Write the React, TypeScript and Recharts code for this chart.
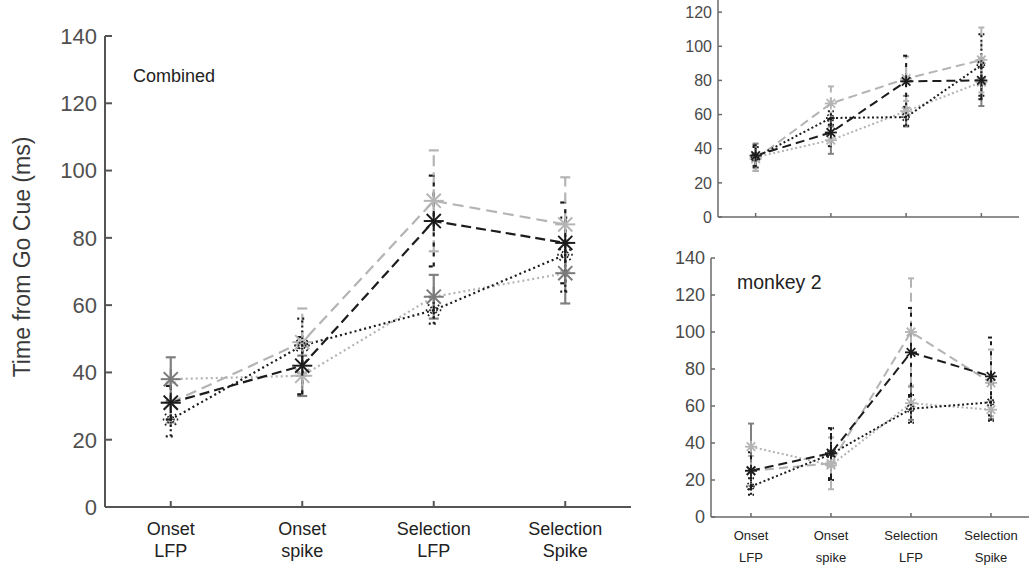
import React from "react";
import { ErrorBar, Line, LineChart, XAxis, YAxis } from "recharts";

// x categories (plotted at 1..4 on a numeric axis)
const stages = ["Onset LFP", "Onset spike", "Selection LFP", "Selection Spike"];
const stageLines = [
  ["Onset", "LFP"],
  ["Onset", "spike"],
  ["Selection", "LFP"],
  ["Selection", "Spike"],
];
const yTicks = [0, 20, 40, 60, 80, 100, 120, 140];
const yTicksTop = [0, 20, 40, 60, 80, 100, 120]; // 140 sits above the picture

// Combined panel — means and error half-widths (ms)
const combGrayDash = [31, 49, 91, 84];
const combGrayDashErr = [6, 10, 15, 14];
const combBlackDash = [31, 42, 85, 78.5];
const combBlackDashErr = [5, 8.5, 13.5, 12];
const combBlackDot = [26, 48, 58.5, 75];
const combBlackDotErr = [5, 8, 4, 11];
const combGrayDot = [38, 39, 62.5, 69.5];
const combGrayDotErr = [6.5, 6, 6.5, 9];

// monkey 1 (top right)
const m1GrayDash = [34, 66.5, 81, 92];
const m1GrayDashErr = [7, 10, 13, 19];
const m1BlackDash = [36, 49.5, 79.5, 80];
const m1BlackDashErr = [6, 8, 15, 11];
const m1BlackDot = [35, 58, 58.5, 89];
const m1BlackDotErr = [6, 4, 5, 18];
const m1GrayDot = [35, 45, 62, 79];
const m1GrayDotErr = [8, 8, 9, 14];

// monkey 2 (bottom right)
const m2GrayDash = [25, 29, 100, 72.5];
const m2GrayDashErr = [8, 14, 29, 18];
const m2BlackDash = [25, 34.5, 89, 76];
const m2BlackDashErr = [10, 13.5, 24, 21];
const m2BlackDot = [16.5, 34, 58.5, 62];
const m2BlackDotErr = [4.5, 14, 7.5, 10];
const m2GrayDot = [38, 28, 61.5, 58];
const m2GrayDotErr = [12.5, 8, 9, 5];

const FONT = "'Liberation Sans', Arial, sans-serif";

type Panel = { vals: number[][]; errs: number[][] };

function buildRows({ vals, errs }: Panel) {
  return stages.map((name, i) => {
    const row: Record<string, number | string> = { pos: i + 1, name };
    vals.forEach((s, k) => {
      row["s" + k] = s[i];
      row["e" + k] = errs[k][i];
    });
    return row;
  });
}

const combined = buildRows({
  vals: [combGrayDash, combBlackDash, combBlackDot, combGrayDot],
  errs: [combGrayDashErr, combBlackDashErr, combBlackDotErr, combGrayDotErr],
});
const monkey1 = buildRows({
  vals: [m1GrayDash, m1BlackDash, m1BlackDot, m1GrayDot],
  errs: [m1GrayDashErr, m1BlackDashErr, m1BlackDotErr, m1GrayDotErr],
});
const monkey2 = buildRows({
  vals: [m2GrayDash, m2BlackDash, m2BlackDot, m2GrayDot],
  errs: [m2GrayDashErr, m2BlackDashErr, m2BlackDotErr, m2GrayDotErr],
});

function star(cx: number, cy: number, r: number, color: string, sw: number, dash?: string, key?: string) {
  const d = r * 0.707;
  return (
    <g key={key} stroke={color} strokeWidth={sw} strokeDasharray={dash} fill="none">
      <line x1={cx - r} y1={cy} x2={cx + r} y2={cy} />
      <line x1={cx} y1={cy - r} x2={cx} y2={cy + r} />
      <line x1={cx - d} y1={cy - d} x2={cx + d} y2={cy + d} />
      <line x1={cx - d} y1={cy + d} x2={cx + d} y2={cy - d} />
    </g>
  );
}

type Look = {
  lw: number;
  r: number;
  cap: number;
  grayDash: string;
  blackDash: string;
  dot: string;
  grayDotMarker: (i: number) => string;
};

function series(look: Look) {
  const light = "#b4b4b4";
  const black = "#1c1c1c";
  const mk = (color: string | ((i: number) => string), dash?: string, r = look.r) =>
    (p: any) => {
      const c = typeof color === "function" ? color(p.index) : color;
      return star(p.cx, p.cy, r, c, look.lw * 0.9, dash, "d" + p.index);
    };
  return [
    <Line key="s3" dataKey="s3" stroke={light} strokeWidth={look.lw} strokeDasharray={look.dot}
      dot={mk(look.grayDotMarker)} isAnimationActive={false}>
      <ErrorBar dataKey="e3" direction="y" width={look.cap} stroke="#808080" strokeWidth={look.lw} />
    </Line>,
    <Line key="s0" dataKey="s0" stroke={light} strokeWidth={look.lw} strokeDasharray={look.grayDash}
      dot={mk(light)} isAnimationActive={false}>
      <ErrorBar dataKey="e0" direction="y" width={look.cap} stroke={light} strokeWidth={look.lw}
        strokeDasharray={look.grayDash} />
    </Line>,
    <Line key="s2" dataKey="s2" stroke={black} strokeWidth={look.lw} strokeDasharray={look.dot}
      dot={mk(black, "1.5 2", look.r * 0.8)} isAnimationActive={false}>
      <ErrorBar dataKey="e2" direction="y" width={look.cap} stroke={black} strokeWidth={look.lw}
        strokeDasharray={look.dot} />
    </Line>,
    <Line key="s1" dataKey="s1" stroke={black} strokeWidth={look.lw} strokeDasharray={look.blackDash}
      dot={mk(black)} isAnimationActive={false}>
      <ErrorBar dataKey="e1" direction="y" width={look.cap} stroke={black} strokeWidth={look.lw}
        strokeDasharray="4 6" />
    </Line>,
  ];
}

function StageTick(props: any) {
  const { x, y, payload, fontSize, gap1, gap2, show } = props;
  if (!show) return null;
  const lines = stageLines[payload.value - 1] || [];
  return (
    <text x={x} textAnchor="middle" fontFamily={FONT} fontSize={fontSize} fill="#222">
      <tspan x={x} y={y + gap1}>{lines[0]}</tspan>
      <tspan x={x} y={y + gap2}>{lines[1]}</tspan>
    </text>
  );
}

export default function App() {
  const axisMain = { stroke: "#555", strokeWidth: 2 };
  const axisSmall = { stroke: "#6a6a6a", strokeWidth: 1.5 };
  return (
    <div style={{ position: "absolute", left: 0, top: 0, width: 1029, height: 565, overflow: "hidden", background: "#fff" }}>
      {/* Combined */}
      <div style={{ position: "absolute", left: 0, top: 0 }}>
        <LineChart width={640} height={565} data={combined} margin={{ top: 36, right: 9, left: 0, bottom: 0 }}>
          <XAxis dataKey="pos" type="number" domain={[0.5, 4.5]} ticks={[1, 2, 3, 4]} height={58}
            axisLine={axisMain} tickLine={axisMain} tickSize={-6} tickMargin={6}
            tick={<StageTick fontSize={18} gap1={28} gap2={50} show />} />
          <YAxis type="number" domain={[0, 140]} ticks={yTicks} width={105} interval={0}
            axisLine={axisMain} tickLine={axisMain} tickSize={-7} tickMargin={15}
            tick={{ fontSize: 22, fill: "#505050", fontFamily: FONT }} />
          {series({
            lw: 2.2, r: 10, cap: 5, grayDash: "11 6", blackDash: "10 5", dot: "2 3",
            grayDotMarker: (i) => (i === 1 ? "#b4b4b4" : "#7a7a7a"),
          })}
        </LineChart>
      </div>

      {/* monkey 1 */}
      <div style={{ position: "absolute", left: 640, top: -40 }}>
        <LineChart width={389} height={265} data={monkey1} margin={{ top: 18, right: 10, left: 0, bottom: 0 }}>
          <XAxis dataKey="pos" type="number" domain={[0.5, 4.5]} ticks={[1, 2, 3, 4]} height={8}
            axisLine={axisSmall} tickLine={axisSmall} tickSize={-4} tickMargin={4}
            tick={<StageTick show={false} />} />
          <YAxis type="number" domain={[0, 140]} ticks={yTicksTop} width={78} interval={0}
            axisLine={axisSmall} tickLine={axisSmall} tickSize={-4} tickMargin={10}
            tick={{ fontSize: 16, fill: "#4a4a4a", fontFamily: FONT }} />
          {series({
            lw: 2, r: 6, cap: 3, grayDash: "9 5", blackDash: "9 5", dot: "2 2.5",
            grayDotMarker: () => "#b4b4b4",
          })}
        </LineChart>
      </div>

      {/* monkey 2 */}
      <div style={{ position: "absolute", left: 640, top: 240 }}>
        <LineChart width={400} height={325} data={monkey2} margin={{ top: 18, right: 9, left: 0, bottom: 0 }}>
          <XAxis dataKey="pos" type="number" domain={[0.5, 4.5]} ticks={[1, 2, 3, 4]} height={48}
            axisLine={axisSmall} tickLine={axisSmall} tickSize={-4} tickMargin={4}
            tick={<StageTick fontSize={13} gap1={23} gap2={45} show />} />
          <YAxis type="number" domain={[0, 140]} ticks={yTicks} width={71} interval={0}
            axisLine={axisSmall} tickLine={axisSmall} tickSize={-4} tickMargin={10}
            tick={{ fontSize: 18, fill: "#4a4a4a", fontFamily: FONT }} />
          {series({
            lw: 2, r: 6, cap: 3, grayDash: "9 5", blackDash: "9 5", dot: "2 2.5",
            grayDotMarker: () => "#b4b4b4",
          })}
        </LineChart>
      </div>

      <svg width={1029} height={565} style={{ position: "absolute", left: 0, top: 0, pointerEvents: "none" }}>
        <text x={0} y={0} transform="translate(30,257) rotate(-90)" textAnchor="middle"
          fontFamily={FONT} fontSize={23} fill="#3a3a3a">Time from Go Cue (ms)</text>
        <text x={133} y={82} fontFamily={FONT} fontSize={18} fill="#222">Combined</text>
        <text x={737} y={289} fontFamily={FONT} fontSize={19.5} fill="#222">monkey 2</text>
      </svg>
    </div>
  );
}
